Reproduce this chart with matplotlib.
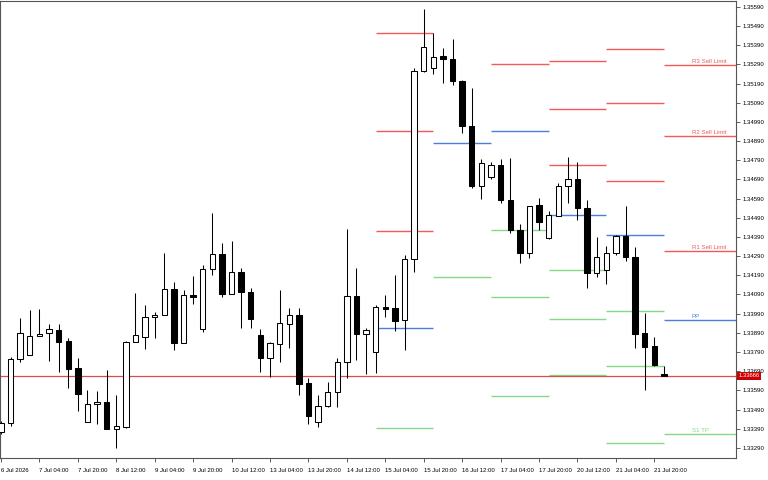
import numpy as np
import matplotlib
matplotlib.use('Agg')
import matplotlib.pyplot as plt
import matplotlib.transforms as mtransforms

plt.rcParams['font.family'] = ['Liberation Sans', 'DejaVu Sans']

# H4 candles, 6 Jul 12:00 .. 22 Jul 00:00
opens = [1.33373, 1.33420, 1.33754, 1.33775, 1.33874, 1.33889, 1.33905, 1.33848, 1.33707, 1.33425,
         1.33519, 1.33529, 1.33388, 1.33399, 1.33842, 1.33868, 1.33973, 1.33983, 1.34119, 1.33837,
         1.34088, 1.33910, 1.34223, 1.34301, 1.34093, 1.34207, 1.34103, 1.33879, 1.33759, 1.33832,
         1.33936, 1.33983, 1.33628, 1.33425, 1.33508, 1.33581, 1.33738, 1.34082, 1.33884, 1.33790,
         1.34025, 1.34020, 1.33957, 1.34275, 1.35256, 1.35272, 1.35334, 1.35319, 1.35204, 1.34969,
         1.34656, 1.34703, 1.34766, 1.34583, 1.34427, 1.34307, 1.34557, 1.34385, 1.34500, 1.34656,
         1.34693, 1.34541, 1.34202, 1.34218, 1.34307, 1.34395, 1.34286, 1.33889, 1.33821, 1.33675]
highs = [1.33430, 1.33764, 1.33967, 1.34009, 1.34014, 1.33936, 1.33936, 1.33863, 1.33759, 1.33592,
         1.33587, 1.33696, 1.33566, 1.33848, 1.34098, 1.34035, 1.33999, 1.34307, 1.34155, 1.34114,
         1.34187, 1.34244, 1.34515, 1.34359, 1.34369, 1.34228, 1.34124, 1.33910, 1.33842, 1.34114,
         1.34020, 1.34020, 1.33654, 1.33566, 1.33634, 1.33759, 1.34432, 1.34228, 1.33915, 1.34035,
         1.34088, 1.34192, 1.34296, 1.35272, 1.35580, 1.35454, 1.35376, 1.35423, 1.35209, 1.35167,
         1.34797, 1.34781, 1.34797, 1.34802, 1.34458, 1.34552, 1.34594, 1.34526, 1.34672, 1.34807,
         1.34781, 1.34583, 1.34390, 1.34343, 1.34401, 1.34552, 1.34338, 1.33994, 1.33868, 1.33717]
lows = [1.33362, 1.33404, 1.33738, 1.33775, 1.33874, 1.33743, 1.33686, 1.33602, 1.33482, 1.33425,
        1.33415, 1.33388, 1.33289, 1.33394, 1.33842, 1.33806, 1.33863, 1.33983, 1.33801, 1.33837,
        1.34041, 1.33894, 1.34192, 1.34077, 1.34093, 1.33915, 1.33915, 1.33686, 1.33660, 1.33738,
        1.33811, 1.33566, 1.33415, 1.33399, 1.33503, 1.33503, 1.33654, 1.33748, 1.33675, 1.33681,
        1.33973, 1.33900, 1.33801, 1.34207, 1.35251, 1.35240, 1.35194, 1.35183, 1.34933, 1.34646,
        1.34588, 1.34693, 1.34567, 1.34411, 1.34254, 1.34280, 1.34427, 1.34380, 1.34500, 1.34567,
        1.34479, 1.34124, 1.34181, 1.34145, 1.34296, 1.34265, 1.33811, 1.33592, 1.33717, 1.33665]
closes = [1.33420, 1.33754, 1.33889, 1.33874, 1.33884, 1.33910, 1.33842, 1.33701, 1.33571, 1.33519,
          1.33529, 1.33388, 1.33404, 1.33842, 1.33879, 1.33973, 1.33983, 1.34119, 1.33837, 1.34088,
          1.34077, 1.34223, 1.34301, 1.34093, 1.34207, 1.34103, 1.33962, 1.33759, 1.33837, 1.33941,
          1.33983, 1.33623, 1.33456, 1.33508, 1.33581, 1.33738, 1.34082, 1.33884, 1.33905, 1.34025,
          1.34014, 1.33952, 1.34275, 1.35256, 1.35381, 1.35329, 1.35319, 1.35204, 1.34969, 1.34656,
          1.34776, 1.34766, 1.34583, 1.34427, 1.34307, 1.34552, 1.34468, 1.34505, 1.34656, 1.34693,
          1.34541, 1.34202, 1.34286, 1.34307, 1.34395, 1.34286, 1.33884, 1.33816, 1.33722, 1.33666]

tick_labels = ['6 Jul 2026', '7 Jul 04:00', '7 Jul 20:00', '8 Jul 12:00', '9 Jul 04:00', '9 Jul 20:00',
               '10 Jul 12:00', '13 Jul 04:00', '13 Jul 20:00', '14 Jul 12:00', '15 Jul 04:00',
               '15 Jul 20:00', '16 Jul 12:00', '17 Jul 04:00', '17 Jul 20:00', '20 Jul 12:00',
               '21 Jul 04:00', '21 Jul 20:00']

# daily pivot levels (None = off chart), each day starts at a candle index
pivot_start = [39, 45, 51, 57, 63, 69]
r3 = [1.35454, None, None, 1.35308, 1.35371, 1.35287]
r2 = [1.34943, None, None, 1.35058, 1.35089, 1.34917]
r1 = [1.34421, None, 1.35293, 1.34766, 1.34682, 1.34317]
pp = [1.33915, 1.34881, 1.34943, 1.34505, 1.34401, 1.33957]
s1 = [1.33394, 1.34181, 1.34427, 1.34218, 1.34004, 1.33362]
s2 = [None, None, 1.34077, 1.33962, 1.33717, None]
s3 = [None, None, 1.33561, 1.33670, 1.33315, None]
last_labels = {'R3 Sell Limit': 1.35287, 'R2 Sell Limit': 1.34917, 'R1 Sell Limit': 1.34317,
               'PP': 1.33957, 'S1 TP': 1.33362}
current_price = 1.33666

RED = '#f05a5a'
BLUE = '#4a7fdc'
GREEN = '#86da86'

fig = plt.figure(figsize=(7.68, 4.8), dpi=100)
ax = fig.add_axes([0, 22 / 480, 736 / 768, 457 / 480])

x = np.arange(len(opens))
o = np.array(opens)
c = np.array(closes)
bull = c >= o

ax.vlines(x, lows, highs, color='black', linewidth=0.75, zorder=2)
body = np.where(np.abs(c - o) < 0.00002, 0.00002, c - o)
ax.bar(x[bull], body[bull], bottom=o[bull], width=0.56, facecolor='white',
       edgecolor='black', linewidth=0.75, zorder=3)
ax.bar(x[~bull], body[~bull], bottom=o[~bull], width=0.56, facecolor='black',
       edgecolor='black', linewidth=0.75, zorder=3)

# pivot segments
ends = pivot_start[1:] + [80]
for levels, col in [(r3, RED), (r2, RED), (r1, RED), (pp, BLUE), (s1, GREEN), (s2, GREEN), (s3, GREEN)]:
    for st, en, v in zip(pivot_start, ends, levels):
        if v is not None:
            ax.hlines(v, st, en, colors=col, linewidth=1.0, zorder=1)

for name, v in last_labels.items():
    col = RED if name.startswith('R') else (BLUE if name == 'PP' else GREEN)
    ax.text(71.9, v + 0.00006, name, color=col, fontsize=4.4, ha='left', va='bottom')

ax.axhline(current_price, color='#dc4b4b', linewidth=0.9, zorder=1)
trans = mtransforms.blended_transform_factory(ax.transAxes, ax.transData)
ax.text(1.003, current_price, '1.33666', transform=trans, color='white', fontsize=4.2,
        ha='left', va='center', clip_on=False, zorder=10,
        bbox=dict(boxstyle='square,pad=0.25', facecolor='#cc0000', edgecolor='none'))

ax.set_xlim(-0.1, 76.5)
ax.set_ylim(1.33237, 1.35621)

ax.set_xticks(np.arange(0, 69, 4))
ax.set_xticklabels(tick_labels, fontsize=4.3, ha='left')
ax.set_yticks(np.arange(1.33290, 1.35600, 0.001))
ax.set_yticklabels(['%.5f' % v for v in np.arange(1.33290, 1.35600, 0.001)], fontsize=4.3)
ax.yaxis.tick_right()
ax.tick_params(axis='both', direction='out', length=3, width=0.6, color='#444444', pad=2)
ax.tick_params(axis='x', pad=4)
for sp in ax.spines.values():
    sp.set_color('#555555')
    sp.set_linewidth(0.8)

fig.savefig('out.png', dpi=100)
